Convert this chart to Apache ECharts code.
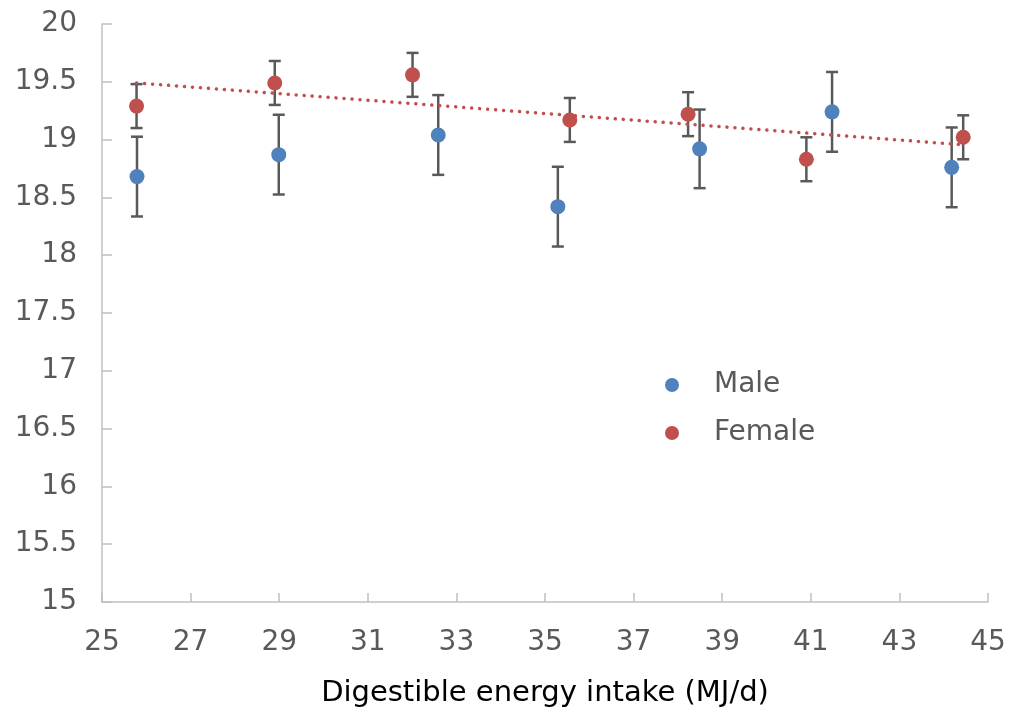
<!DOCTYPE html>
<html>
<head>
<meta charset="utf-8">
<script src="https://cdn.jsdelivr.net/npm/echarts@6/dist/echarts.min.js"></script>
<style>
  html, body { margin: 0; padding: 0; background: #fff; }
  #chart { width: 1011px; height: 713px; }
</style>
</head>
<body>
<div id="chart"></div>
<script>
// values
const maleX = [25.79, 28.99, 32.59, 35.29, 38.49, 41.48, 44.18];
const maleY = [18.68, 18.87, 19.04, 18.42, 18.92, 19.24, 18.76];
const maleErr = [0.345, 0.345, 0.345, 0.345, 0.34, 0.345, 0.345];

const femaleX = [25.78, 28.90, 32.01, 35.56, 38.23, 40.90, 44.44];
const femaleY = [19.29, 19.49, 19.56, 19.17, 19.22, 18.83, 19.02];
const femaleErr = [0.19, 0.19, 0.19, 0.19, 0.19, 0.19, 0.19];

// linear trend of the female points, ends as drawn
const trendX = [25.78, 44.44];
const trendY = [19.49, 18.955];

const xTicks = [25, 27, 29, 31, 33, 35, 37, 39, 41, 43, 45];

const font = 'DejaVu Sans';
const grey = '#595959';

const points = (xs, ys) => xs.map((x, i) => [x, ys[i]]);
const bars = (xs, ys, es) => xs.map((x, i) => [x, ys[i] - es[i], ys[i] + es[i]]);

const errorBars = (params, api) => {
  const x = api.value(0);
  const top = api.coord([x, api.value(2)]);
  const bot = api.coord([x, api.value(1)]);
  const w = 6;
  const style = { stroke: grey, lineWidth: 2.5 };
  return {
    type: 'group',
    children: [
      { type: 'line', shape: { x1: top[0], y1: top[1], x2: bot[0], y2: bot[1] }, style },
      { type: 'line', shape: { x1: top[0] - w, y1: top[1], x2: top[0] + w, y2: top[1] }, style },
      { type: 'line', shape: { x1: bot[0] - w, y1: bot[1], x2: bot[0] + w, y2: bot[1] }, style }
    ]
  };
};

const chart = echarts.init(document.getElementById('chart'));
chart.setOption({
  animation: false,
  grid: { left: 102, right: 23, top: 24, bottom: 110 },
  legend: {
    orient: 'vertical',
    left: 660,
    top: 363,
    itemWidth: 74,
    itemHeight: 14,
    itemGap: 14,
    data: ['Male', 'Female'],
    textStyle: { fontFamily: font, fontSize: 28, color: grey, lineHeight: 34 }
  },
  xAxis: {
    type: 'value',
    min: 25,
    max: 45,
    name: 'Digestible energy intake (MJ/d)',
    nameLocation: 'middle',
    nameGap: 77,
    nameTextStyle: { fontFamily: font, fontSize: 29, color: '#000' },
    axisLine: { lineStyle: { color: '#c0c0c0', width: 1.5 } },
    axisTick: { inside: true, length: 9, customValues: xTicks, lineStyle: { color: '#c0c0c0', width: 1.5 } },
    axisLabel: { customValues: xTicks, margin: 27, fontFamily: font, fontSize: 28, color: grey },
    splitLine: { show: false }
  },
  yAxis: {
    type: 'value',
    min: 15,
    max: 20,
    interval: 0.5,
    axisLine: { show: true, lineStyle: { color: '#c0c0c0', width: 1.5 } },
    axisTick: { show: true, inside: true, length: 10, lineStyle: { color: '#c0c0c0', width: 1.5 } },
    axisLabel: { margin: 25, fontFamily: font, fontSize: 28, color: grey },
    splitLine: { show: false }
  },
  series: [
    {
      type: 'custom',
      name: 'male err',
      renderItem: errorBars,
      encode: { x: 0, y: [1, 2] },
      data: bars(maleX, maleY, maleErr),
      z: 1
    },
    {
      type: 'custom',
      name: 'female err',
      renderItem: errorBars,
      encode: { x: 0, y: [1, 2] },
      data: bars(femaleX, femaleY, femaleErr),
      z: 1
    },
    {
      type: 'line',
      name: 'trend',
      data: points(trendX, trendY),
      symbol: 'none',
      lineStyle: { color: '#c0504d', width: 3.5, type: [0.1, 7.9], cap: 'round' },
      z: 2
    },
    {
      type: 'scatter',
      name: 'Male',
      data: points(maleX, maleY),
      symbolSize: 15,
      itemStyle: { color: '#4f81bd', opacity: 1 },
      z: 3
    },
    {
      type: 'scatter',
      name: 'Female',
      data: points(femaleX, femaleY),
      symbolSize: 15,
      itemStyle: { color: '#c0504d', opacity: 1 },
      z: 3
    }
  ]
});
</script>
</body>
</html>
